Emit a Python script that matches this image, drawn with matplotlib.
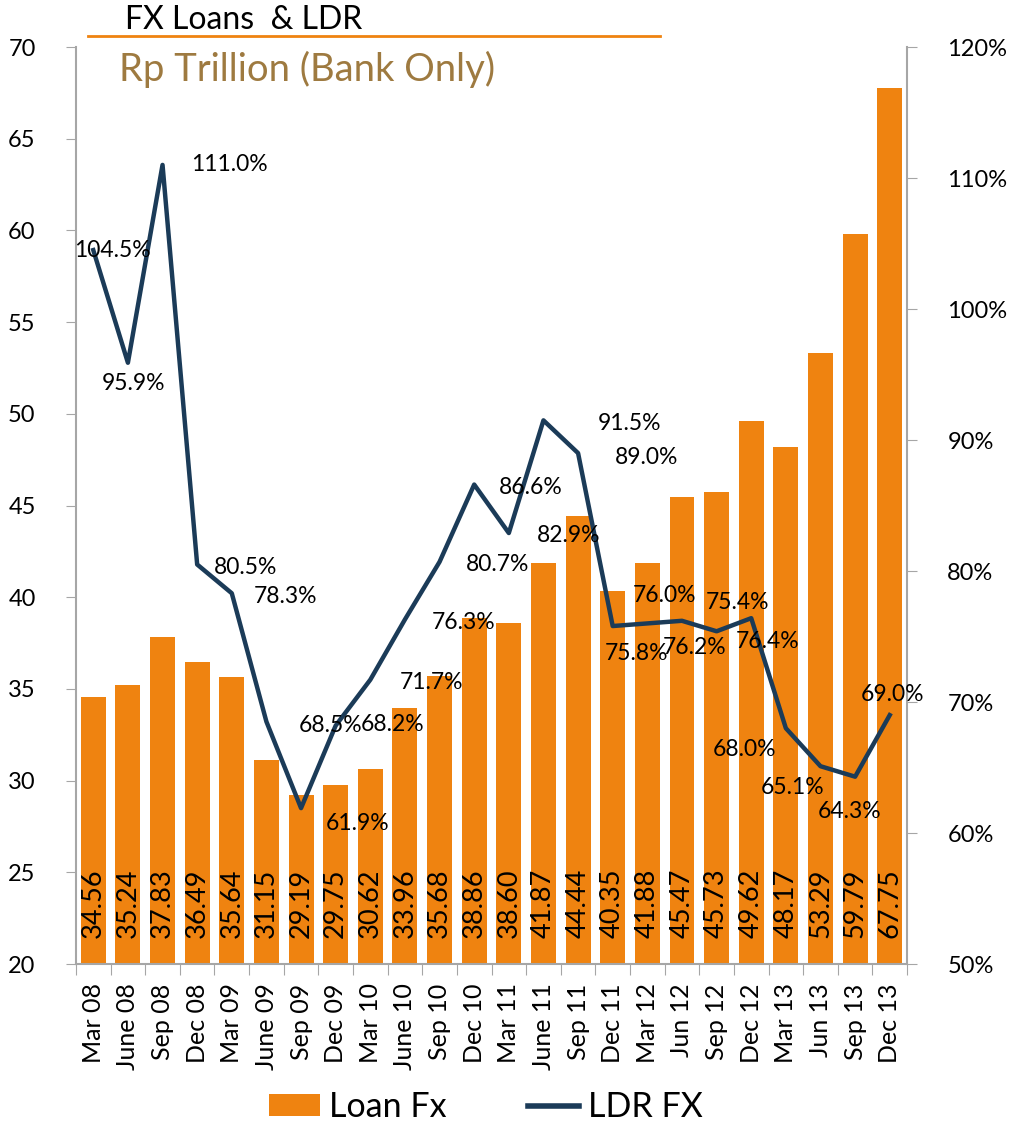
import matplotlib
matplotlib.use("Agg")
import matplotlib.pyplot as plt
from matplotlib.lines import Line2D
from matplotlib.patches import Patch

plt.rcParams['font.family'] = ['Lato', 'DejaVu Sans']

# data
quarters = ["Mar 08", "June 08", "Sep 08", "Dec 08", "Mar 09", "June 09", "Sep 09", "Dec 09",
            "Mar 10", "June 10", "Sep 10", "Dec 10", "Mar 11", "June 11", "Sep 11", "Dec 11",
            "Mar 12", "Jun 12", "Sep 12", "Dec 12", "Mar 13", "Jun 13", "Sep 13", "Dec 13"]
loan_fx = [34.56, 35.24, 37.83, 36.49, 35.64, 31.15, 29.19, 29.75, 30.62, 33.96, 35.68, 38.86,
           38.60, 41.87, 44.44, 40.35, 41.88, 45.47, 45.73, 49.62, 48.17, 53.29, 59.79, 67.75]
ldr_fx = [104.5, 95.9, 111.0, 80.5, 78.3, 68.5, 61.9, 68.2, 71.7, 76.3, 80.7, 86.6,
          82.9, 91.5, 89.0, 75.8, 76.0, 76.2, 75.4, 76.4, 68.0, 65.1, 64.3, 69.0]

# label offsets in points (dx, dy) for the LDR labels
ldr_offsets = [(14, 0), (4, -15), (48, 0), (35, -2), (39, -2), (46, -3), (41, -11), (41, 1),
               (44, -2), (42, -2), (42, -2), (41, -2), (43, -2), (62, -2), (49, -3), (17, -20),
               (12, 20), (9, -19), (15, 21), (12, -17), (-30, -15), (-20, -15), (-4, -25), (2, 15)]

BAR_COLOR = "#EF8310"
LINE_COLOR = "#1B3B58"
GRID_GRAY = "#A6A6A6"

fig = plt.figure(figsize=(10.21, 11.25), dpi=100)
ax = fig.add_axes([0.0744, 0.1431, 0.8140, 0.8151])
ax2 = ax.twinx()

x = list(range(len(quarters)))
ax.bar(x, loan_fx, width=0.72, color=BAR_COLOR, zorder=2)
for xi, v in zip(x, loan_fx):
    ax.text(xi, 23.3, f"{v:.2f}", rotation=90, ha="center", va="center",
            fontsize=19.5, color="black", zorder=3)

ax.set_xlim(-0.5, len(quarters) - 0.5)
ax.set_ylim(20, 70)
ax.set_yticks(range(20, 71, 5))
ax.tick_params(axis="y", labelsize=17, length=7, color=GRID_GRAY, pad=22)
ax.set_xticks([i - 0.5 for i in range(len(quarters) + 1)])
ax.set_xticklabels([])
ax.set_xticks(x, minor=True)
ax.set_xticklabels(quarters, minor=True, rotation=90, fontsize=18)
ax.tick_params(axis="x", which="major", length=8, color=GRID_GRAY)
ax.tick_params(axis="x", which="minor", length=0, pad=14)
for s in ["top", "right"]:
    ax.spines[s].set_visible(False)
ax.spines["left"].set_color(GRID_GRAY)
ax.spines["bottom"].set_color(GRID_GRAY)
ax.spines["left"].set_linewidth(1.5)
ax.spines["bottom"].set_linewidth(1.5)

ax2.plot(x, ldr_fx, color=LINE_COLOR, linewidth=3.2, zorder=4)
ax2.set_ylim(50, 120)
ax2.set_yticks(range(50, 121, 10))
ax2.set_yticklabels([f"{t}%" for t in range(50, 121, 10)])
ax2.tick_params(axis="y", labelsize=17, length=7, color=GRID_GRAY, pad=22)
for s in ["top", "left", "bottom"]:
    ax2.spines[s].set_visible(False)
ax2.spines["right"].set_color(GRID_GRAY)
ax2.spines["right"].set_linewidth(1.5)

for xi, v, (dx, dy) in zip(x, ldr_fx, ldr_offsets):
    ax2.annotate(f"{v:.1f}%", (xi, v), xytext=(dx, dy), textcoords="offset points",
                 ha="center", va="center", fontsize=16.5, color="black", zorder=5)

# title block
fig.text(0.1224, 0.982, "FX Loans  & LDR", fontsize=23, color="black", ha="left", va="center")
fig.add_artist(Line2D([0.086, 0.646], [0.968, 0.968], color=BAR_COLOR, linewidth=2))
fig.text(0.117, 0.938, "Rp Trillion (Bank Only)", fontsize=27.5, color="#9E7A40",
         ha="left", va="center")

handles = [Patch(facecolor=BAR_COLOR, edgecolor="none"),
           Line2D([0], [0], color=LINE_COLOR, linewidth=4)]
fig.legend(handles, ["Loan Fx", "LDR FX"], loc="center", bbox_to_anchor=(0.476, 0.016),
           ncol=2, frameon=False, fontsize=24.5, columnspacing=2.4, handlelength=1.5,
           handleheight=0.6, handletextpad=0.25)

fig.savefig("out.png", dpi=100)
